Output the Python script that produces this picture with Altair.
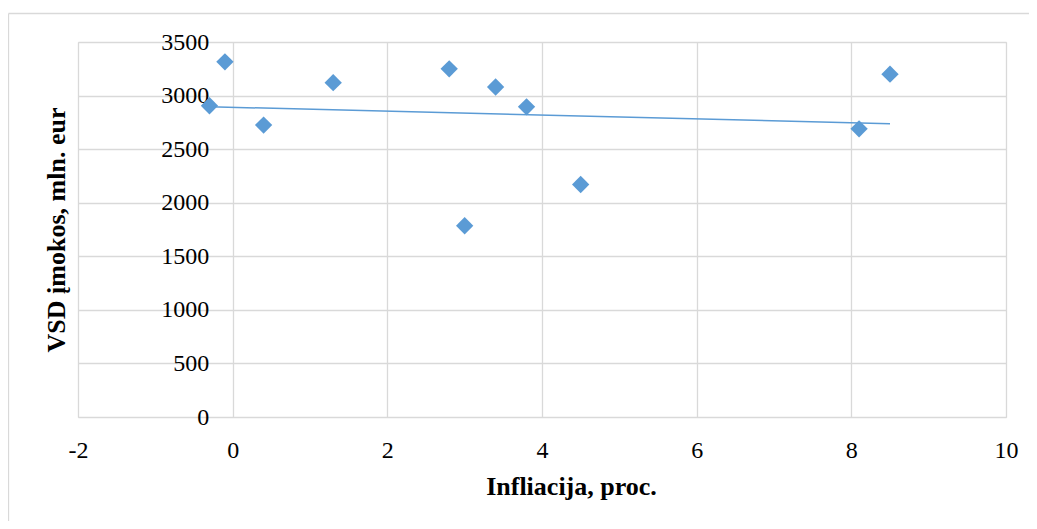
import altair as alt
import pandas as pd

# Data
inflation = [-0.3, -0.1, 0.4, 1.3, 2.8, 3.0, 3.4, 3.8, 4.5, 8.1, 8.5]
contributions = [2905, 3315, 2725, 3120, 3250, 1785, 3080, 2895, 2170, 2690, 3200]
trend_x = [-0.3, 8.5]
trend_y = [2896, 2737]
x_ticks = [-2, 0, 2, 4, 6, 8, 10]
y_ticks = [0, 500, 1000, 1500, 2000, 2500, 3000, 3500]

df = pd.DataFrame({"x": inflation, "y": contributions})
tdf = pd.DataFrame({"x": trend_x, "y": trend_y})

FONT = "Liberation Serif"
BLUE = "#5B9BD5"
GRID = "#D9D9D9"

W, H = 928, 375

xscale = alt.Scale(domain=[-2, 10], nice=False, zero=False)
yscale = alt.Scale(domain=[0, 3500], nice=False)

xaxis = alt.Axis(
    values=x_ticks, grid=True, gridColor=GRID, gridWidth=1.3, domain=False, ticks=False,
    labelExpr="datum.value + ''", labelFlush=False, labelOverlap=False,
    labelFont=FONT, labelFontSize=24, labelColor="black", labelPadding=21,
    title="Infliacija, proc.", titleFont=FONT, titleFontSize=26, titleFontWeight="bold",
    titleColor="black", titleX=493, titleY=77, titleAlign="center", titleBaseline="alphabetic",
    titleAnchor="middle",
)
yaxis = alt.Axis(
    values=y_ticks, grid=True, gridColor=GRID, gridWidth=1.3, domain=False, ticks=False,
    offset=-154.7,
    labelExpr="datum.value + ''", labelFlush=False, labelOverlap=False,
    labelFont=FONT, labelFontSize=24, labelColor="black", labelPadding=24,
    title="VSD įmokos, mln. eur", titleFont=FONT, titleFontSize=26, titleFontWeight="bold",
    titleColor="black", titleAngle=270, titleX=-168, titleY=187.5, titleAlign="center",
    titleBaseline="alphabetic", titleAnchor="middle",
)

points = alt.Chart(df).mark_point(
    shape="diamond", filled=True, size=300, color=BLUE, opacity=1
).encode(
    x=alt.X("x:Q", scale=xscale, axis=xaxis),
    y=alt.Y("y:Q", scale=yscale, axis=yaxis),
)

trend = alt.Chart(tdf).mark_line(color=BLUE, strokeWidth=1.5).encode(
    x=alt.X("x:Q", scale=xscale),
    y=alt.Y("y:Q", scale=yscale),
)

one = pd.DataFrame({"a": [0]})
border_top = alt.Chart(one).mark_rule(color=GRID, strokeWidth=1.3).encode(
    x=alt.value(-69.5), x2=alt.value(1300), y=alt.value(-28.5)
)
border_left = alt.Chart(one).mark_rule(color=GRID, strokeWidth=1.3).encode(
    x=alt.value(-69.5), y=alt.value(-28.5), y2=alt.value(900)
)

chart = alt.layer(border_top, border_left, points, trend).properties(
    width=W, height=H,
    autosize=alt.AutoSizeParams(type="none"),
    padding={"left": 70, "top": 34, "right": 23, "bottom": 104},
).configure_view(stroke=None).configure(background="white")

chart.save("out.html", embed_options={"renderer": "svg", "actions": False})
